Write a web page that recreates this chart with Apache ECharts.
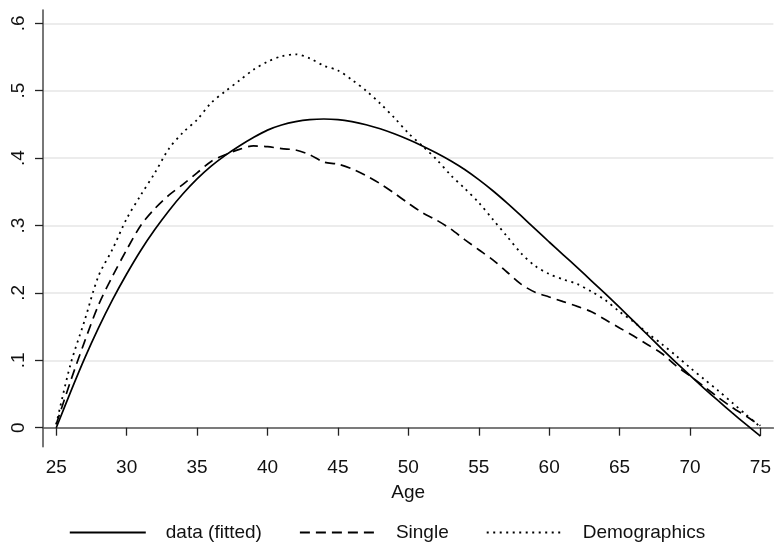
<!DOCTYPE html>
<html>
<head>
<meta charset="utf-8">
<script src="https://cdn.jsdelivr.net/npm/echarts@6/dist/echarts.min.js"></script>
<style>html,body{margin:0;padding:0;background:#fff;}#c{width:774px;height:542px;}</style>
</head>
<body>
<div id="c"></div>
<script>
var ages = [25,26,27,28,29,30,31,32,33,34,35,36,37,38,39,40,41,42,43,44,45,46,47,48,49,50,51,52,53,54,55,56,57,58,59,60,61,62,63,64,65,66,67,68,69,70,71,72,73,74,75];
var fitted = [0,.052,.102,.148,.190,.228,.263,.294,.322,.347,.369,.388,.404,.418,.4305,.4415,.449,.454,.457,.458,.457,.454,.4495,.4435,.436,.4275,.418,.4075,.396,.383,.368,.3515,.3335,.3145,.295,.2755,.2565,.2375,.218,.1985,.1785,.158,.1375,.117,.097,.0775,.0585,.040,.022,.0045,-.0125];
var single = [.005,.068,.127,.182,.225,.264,.300,.325,.345,.361,.378,.395,.405,.413,.418,.417,.414,.412,.405,.394,.391,.384,.374,.362,.348,.333,.319,.308,.295,.279,.264,.249,.231,.213,.201,.194,.187,.180,.172,.160,.148,.136,.123,.110,.092,.077,.061,.045,.030,.017,.003];
var demographics = [.005,.093,.158,.225,.265,.310,.345,.378,.414,.438,.457,.482,.499,.515,.531,.543,.551,.554,.548,.537,.530,.516,.500,.481,.460,.437,.418,.398,.375,.355,.334,.309,.284,.259,.240,.228,.220,.213,.202,.189,.172,.157,.140,.124,.107,.089,.072,.055,.037,.019,.001];
var xTicks = [25,30,35,40,45,50,55,60,65,70,75];
var yTicks = [0,0.1,0.2,0.3,0.4,0.5,0.6];
var seriesNames = ['data (fitted)','Single','Demographics'];

function pairs(vals){ return ages.map(function(a,i){ return [a, vals[i]]; }); }
function yFmt(v){ var s = (Math.round(v*10)/10).toString(); return s === '0' ? '0' : s.replace(/^0\./,'.'); }

var font = 'Liberation Sans, Arial, sans-serif';
var chart = echarts.init(document.getElementById('c'), null, {renderer:'canvas'});
chart.setOption({
  backgroundColor: '#fff',
  animation: false,
  grid: {left: 43, right: 0, top: 10, bottom: 95.3, containLabel: false},
  xAxis: {
    type: 'value', min: 24.06, max: 75.92,
    name: 'Age', nameLocation: 'middle', nameGap: 37,
    nameTextStyle: {fontFamily: font, fontSize: 19, color: '#111'},
    axisLine: {show: true, lineStyle: {color: '#555', width: 1.6}},
    axisTick: {show: true, length: 8, lineStyle: {color: '#222', width: 1.3}, customValues: xTicks},
    axisLabel: {customValues: xTicks, fontFamily: font, fontSize: 19, color: '#111', margin: 12},
    splitLine: {show: false}
  },
  yAxis: {
    type: 'value', min: -0.0282, max: 0.6197,
    axisLine: {show: true, lineStyle: {color: '#555', width: 1.6}},
    axisTick: {show: true, length: 8, lineStyle: {color: '#222', width: 1.3}, customValues: yTicks},
    axisLabel: {customValues: yTicks, rotate: 90, fontFamily: font, fontSize: 19, color: '#111', margin: 14.5, formatter: yFmt},
    splitLine: {show: true, lineStyle: {color: '#e6e6e6', width: 1.5}}
  },
  legend: {
    data: seriesNames, top: 518, left: 'center', itemWidth: 76, itemHeight: 14, itemGap: 37,
    itemStyle: {opacity: 0},
    lineStyle: {opacity: 1},
    textStyle: {fontFamily: font, fontSize: 19, color: '#111', padding: [0,0,0,15]}
  },
  series: [
    {name: seriesNames[0], type: 'line', data: pairs(fitted), symbol: 'none', smooth: 0.3,
     lineStyle: {color: '#000', width: 1.7, type: 'solid'}, itemStyle: {color: '#000'}},
    {name: seriesNames[1], type: 'line', data: pairs(single), symbol: 'none', smooth: 0.3,
     lineStyle: {color: '#000', width: 1.7, type: [10,6]}, itemStyle: {color: '#000'}},
    {name: seriesNames[2], type: 'line', data: pairs(demographics), symbol: 'none', smooth: 0.3,
     lineStyle: {color: '#000', width: 1.8, type: [2,4.5]}, itemStyle: {color: '#000'}}
  ]
});
</script>
</body>
</html>
